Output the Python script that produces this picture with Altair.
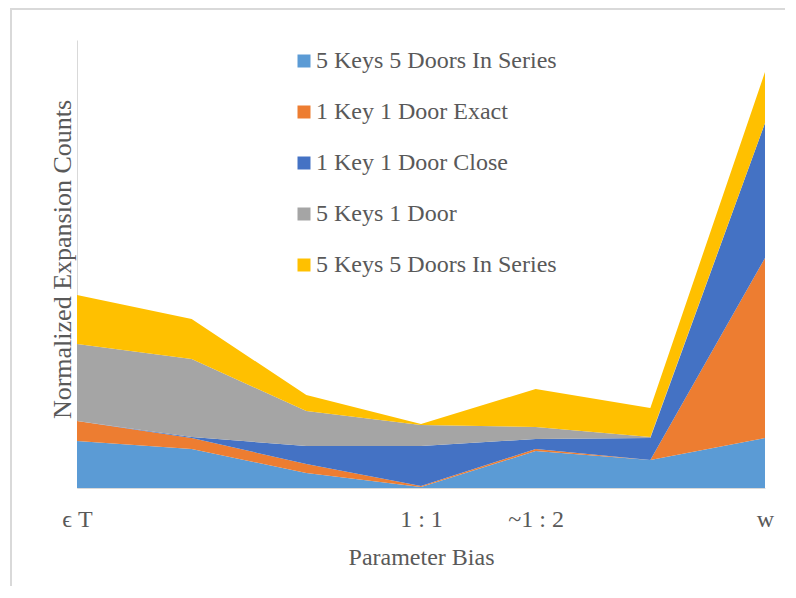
import altair as alt
import pandas as pd

positions = [0, 1, 2, 3, 4, 5, 6]
tick_values = [0, 3, 4, 6]
tick_texts = ["ϵ T", "1 : 1", "~1 : 2", "w"]
series = [
    "5 Keys 5 Doors In Series",
    "1 Key 1 Door Exact",
    "1 Key 1 Door Close",
    "5 Keys 1 Door",
    "5 Keys 5 Doors In Series ",
]
s1 = [47, 39, 15, 1, 37, 28, 50]
s2 = [20, 11, 9, 1, 2, 0, 180]
s3 = [0, 1, 18, 40, 10, 22, 135]
s4 = [77, 78, 35, 21, 12, 1, 0]
s5 = [49, 40, 16, 1, 38, 29, 51]
colors = ["#5B9BD5", "#ED7D31", "#4472C4", "#A5A5A5", "#FFC000"]

rows = []
for k, (name, vals) in enumerate(zip(series, [s1, s2, s3, s4, s5])):
    for p, v in zip(positions, vals):
        rows.append({"pos": p, "value": v, "series": name, "order": k})
df = pd.DataFrame(rows)

label_expr = " : ".join(
    f"datum.value == {v} ? '{t}'" for v, t in zip(tick_values, tick_texts)
) + " : ''"

FONT = "Liberation Serif"
TXT = "#595959"

area = alt.Chart(df).mark_area(opacity=1).encode(
    x=alt.X("pos:Q", scale=alt.Scale(domain=[0, 6], nice=False, zero=False),
            axis=alt.Axis(values=tick_values, labelExpr=label_expr, ticks=False, grid=False,
                          domainColor="#D9D9D9", labelFontSize=24, labelFont=FONT,
                          labelColor=TXT, labelPadding=19, title="Parameter Bias",
                          titleFont=FONT, titleFontSize=24, titleFontWeight="normal",
                          titleColor=TXT, titlePadding=14, labelFlush=False)),
    y=alt.Y("value:Q", stack="zero", scale=alt.Scale(domain=[0, 448], nice=False),
            axis=alt.Axis(labels=False, ticks=False, grid=False, domainColor="#D9D9D9",
                          title="Normalized Expansion Counts", titleFont=FONT,
                          titleFontSize=26, titleFontWeight="normal", titleColor=TXT,
                          titlePadding=2, titleY=219)),
    color=alt.Color("series:N", scale=alt.Scale(domain=series, range=colors),
                    legend=alt.Legend(orient="none", legendX=215, legendY=9, title=None,
                                      symbolType="square", symbolSize=169, symbolStrokeWidth=0,
                                      labelFont=FONT, labelFontSize=24, labelColor=TXT,
                                      rowPadding=27, labelOffset=0, padding=0,
                                      labelLimit=400)),
    order=alt.Order("order:Q"),
)

frame = alt.Chart(pd.DataFrame({"a": [0]})).mark_rect(
    fill=None, stroke="#D9D9D9", strokeWidth=2, clip=False
).encode(
    x=alt.value(-66), x2=alt.value(900), y=alt.value(-31), y2=alt.value(800)
)

chart = alt.layer(frame, area).properties(
    width=688, height=448,
    autosize=alt.AutoSizeParams(type="none"),
    padding={"left": 69, "top": 32, "right": 20, "bottom": 98},
).configure_view(stroke=None)

chart.save("out.html", embed_options={"renderer": "svg", "actions": False})
